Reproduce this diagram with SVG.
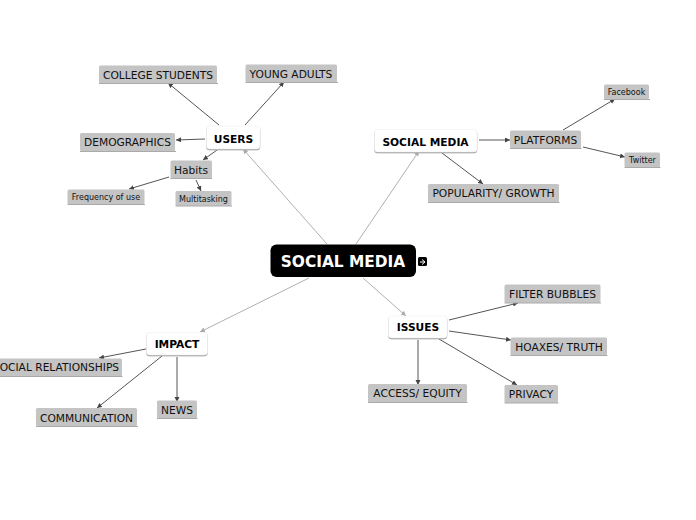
<svg xmlns="http://www.w3.org/2000/svg" width="696" height="520" viewBox="0 0 696 520">
<style>
text{font-family:"DejaVu Sans",Verdana,sans-serif;text-anchor:middle;fill:#111}
.g rect{fill:#c4c4c4}
.g line{stroke:#aaa;stroke-width:1}
.g text{font-size:10.67px}
.s text{font-size:8px}
.w rect{fill:#fff;stroke:#eee;stroke-width:.6;filter:url(#sh)}
.w text{font-size:10.67px;font-weight:bold;fill:#000}
.c line{stroke:#555;stroke-width:1;marker-end:url(#a)}
.c line.m{stroke:#b0b0b0;marker-end:url(#b)}
</style>
<defs>
<filter id="sh" x="-10%" y="-20%" width="120%" height="150%"><feDropShadow dx="0" dy="1" stdDeviation="0.7" flood-color="#999"/></filter>
<marker id="a" markerUnits="userSpaceOnUse" markerWidth="6" markerHeight="6" refX="5" refY="2.500" orient="auto"><path d="M0 0L5 2.500L0 5z" fill="#444"/></marker>
<marker id="b" markerUnits="userSpaceOnUse" markerWidth="6" markerHeight="6" refX="5" refY="2.500" orient="auto"><path d="M0 0L5 2.500L0 5z" fill="#aaa"/></marker>
</defs>
<rect width="696" height="520" fill="#fff"/>
<g id="connectors" class="c">
<line class="m" x1="327" y1="244" x2="243" y2="149"/>
<line class="m" x1="356" y1="244" x2="419" y2="151"/>
<line class="m" x1="309" y1="278" x2="200" y2="332"/>
<line class="m" x1="363" y1="278" x2="406" y2="316"/>
<line x1="219" y1="125" x2="168" y2="83"/>
<line x1="245" y1="125" x2="284" y2="82"/>
<line x1="205" y1="139" x2="176" y2="140"/>
<line x1="217" y1="150" x2="203" y2="160"/>
<line x1="169" y1="177" x2="129" y2="189"/>
<line x1="196" y1="180" x2="201" y2="191"/>
<line x1="479" y1="140" x2="510" y2="140"/>
<line x1="442" y1="153" x2="483" y2="184"/>
<line x1="563" y1="130" x2="615" y2="99"/>
<line x1="583" y1="147" x2="625" y2="157"/>
<line x1="146" y1="349" x2="99" y2="358"/>
<line x1="162" y1="356" x2="97" y2="408"/>
<line x1="177" y1="357" x2="177" y2="402"/>
<line x1="449" y1="320" x2="518" y2="303"/>
<line x1="449" y1="331" x2="511" y2="340"/>
<line x1="418" y1="340" x2="418" y2="385"/>
<line x1="439" y1="339" x2="517" y2="385"/>
</g>
<g id="root"><rect x="270.500" y="244.500" width="145.500" height="32.500" rx="6" fill="#000"/><text x="343" y="267" style="font-size:15.400px;font-weight:bold;fill:#fff">SOCIAL MEDIA</text></g>
<g id="collapse"><rect x="418" y="257" width="9" height="9" rx="1.500" fill="#000"/><path d="M420 262h5M422 259.500l3 2.500l-3 2.500" fill="none" stroke="#fff" stroke-width="1"/></g>
<g id="users" class="w"><rect x="206.500" y="126" width="53.500" height="23" rx="3"/><text x="233.500" y="142.500">USERS</text></g>
<g id="social-media" class="w"><rect x="374.500" y="129.500" width="102.500" height="22.500" rx="3"/><text x="425.500" y="145.500">SOCIAL MEDIA</text></g>
<g id="impact" class="w"><rect x="146.500" y="332.500" width="61" height="22.500" rx="3"/><text x="177" y="348">IMPACT</text></g>
<g id="issues" class="w"><rect x="388.500" y="316" width="58.500" height="22" rx="3"/><text x="418" y="331">ISSUES</text></g>
<g id="college" class="g"><rect x="99" y="65.500" width="118" height="18" rx="1.500"/><line x1="99" y1="83.500" x2="218" y2="83.500"/><text x="158" y="78.500">COLLEGE STUDENTS</text></g>
<g id="young" class="g"><rect x="245.500" y="64.500" width="91.500" height="18" rx="1.500"/><line x1="245.500" y1="82.500" x2="338" y2="82.500"/><text x="291" y="78">YOUNG ADULTS</text></g>
<g id="demographics" class="g"><rect x="80" y="133" width="95" height="18" rx="1.500"/><line x1="80" y1="151.500" x2="176" y2="151.500"/><text x="127.500" y="146">DEMOGRAPHICS</text></g>
<g id="habits" class="g"><rect x="170.500" y="160.500" width="41.500" height="18" rx="1.500"/><line x1="170.500" y1="178.500" x2="212" y2="178.500"/><text x="191" y="174">Habits</text></g>
<g id="frequency" class="g s"><rect x="67.500" y="189.500" width="77" height="15" rx="1.500"/><line x1="67.500" y1="204.500" x2="145" y2="204.500"/><text x="106" y="200">Frequency of use</text></g>
<g id="multitasking" class="g s"><rect x="175.500" y="191" width="56" height="15" rx="1.500"/><line x1="175.500" y1="206" x2="232" y2="206"/><text x="203.500" y="202">Multitasking</text></g>
<g id="platforms" class="g"><rect x="510" y="130.500" width="71" height="18" rx="1.500"/><line x1="510" y1="148.500" x2="581.500" y2="148.500"/><text x="545.500" y="144">PLATFORMS</text></g>
<g id="facebook" class="g s"><rect x="604" y="84.500" width="45" height="14.500" rx="1.500"/><line x1="604" y1="99.500" x2="650" y2="99.500"/><text x="626.500" y="95">Facebook</text></g>
<g id="twitter" class="g s"><rect x="624.500" y="152.500" width="35.500" height="15" rx="1.500"/><line x1="624.500" y1="167.500" x2="660.500" y2="167.500"/><text x="642.500" y="163">Twitter</text></g>
<g id="popularity" class="g"><rect x="428" y="184" width="131" height="18.500" rx="1.500"/><line x1="428" y1="202.500" x2="559.500" y2="202.500"/><text x="493.500" y="197">POPULARITY/ GROWTH</text></g>
<g id="relationships" class="g"><rect x="-10" y="358.500" width="132" height="18" rx="1.500"/><line x1="-10" y1="376.500" x2="122.500" y2="376.500"/><text x="56" y="371">SOCIAL RELATIONSHIPS</text></g>
<g id="communication" class="g"><rect x="36" y="408" width="101" height="18" rx="1.500"/><line x1="36" y1="426.500" x2="138" y2="426.500"/><text x="86.500" y="421.500">COMMUNICATION</text></g>
<g id="news" class="g"><rect x="157" y="400.500" width="40" height="18" rx="1.500"/><line x1="157" y1="418.500" x2="197.500" y2="418.500"/><text x="177" y="413.500">NEWS</text></g>
<g id="filter" class="g"><rect x="504.500" y="284.500" width="96" height="18.500" rx="1.500"/><line x1="504.500" y1="303" x2="601" y2="303"/><text x="552.500" y="298">FILTER BUBBLES</text></g>
<g id="hoaxes" class="g"><rect x="510.500" y="337.500" width="96.500" height="18" rx="1.500"/><line x1="510.500" y1="355.500" x2="607.500" y2="355.500"/><text x="559" y="351">HOAXES/ TRUTH</text></g>
<g id="access" class="g"><rect x="368" y="384" width="99" height="18.500" rx="1.500"/><line x1="368" y1="402.500" x2="467.500" y2="402.500"/><text x="417.500" y="397">ACCESS/ EQUITY</text></g>
<g id="privacy" class="g"><rect x="504.500" y="385" width="53.500" height="18" rx="1.500"/><line x1="504.500" y1="403" x2="558.500" y2="403"/><text x="531" y="398">PRIVACY</text></g>
</svg>
